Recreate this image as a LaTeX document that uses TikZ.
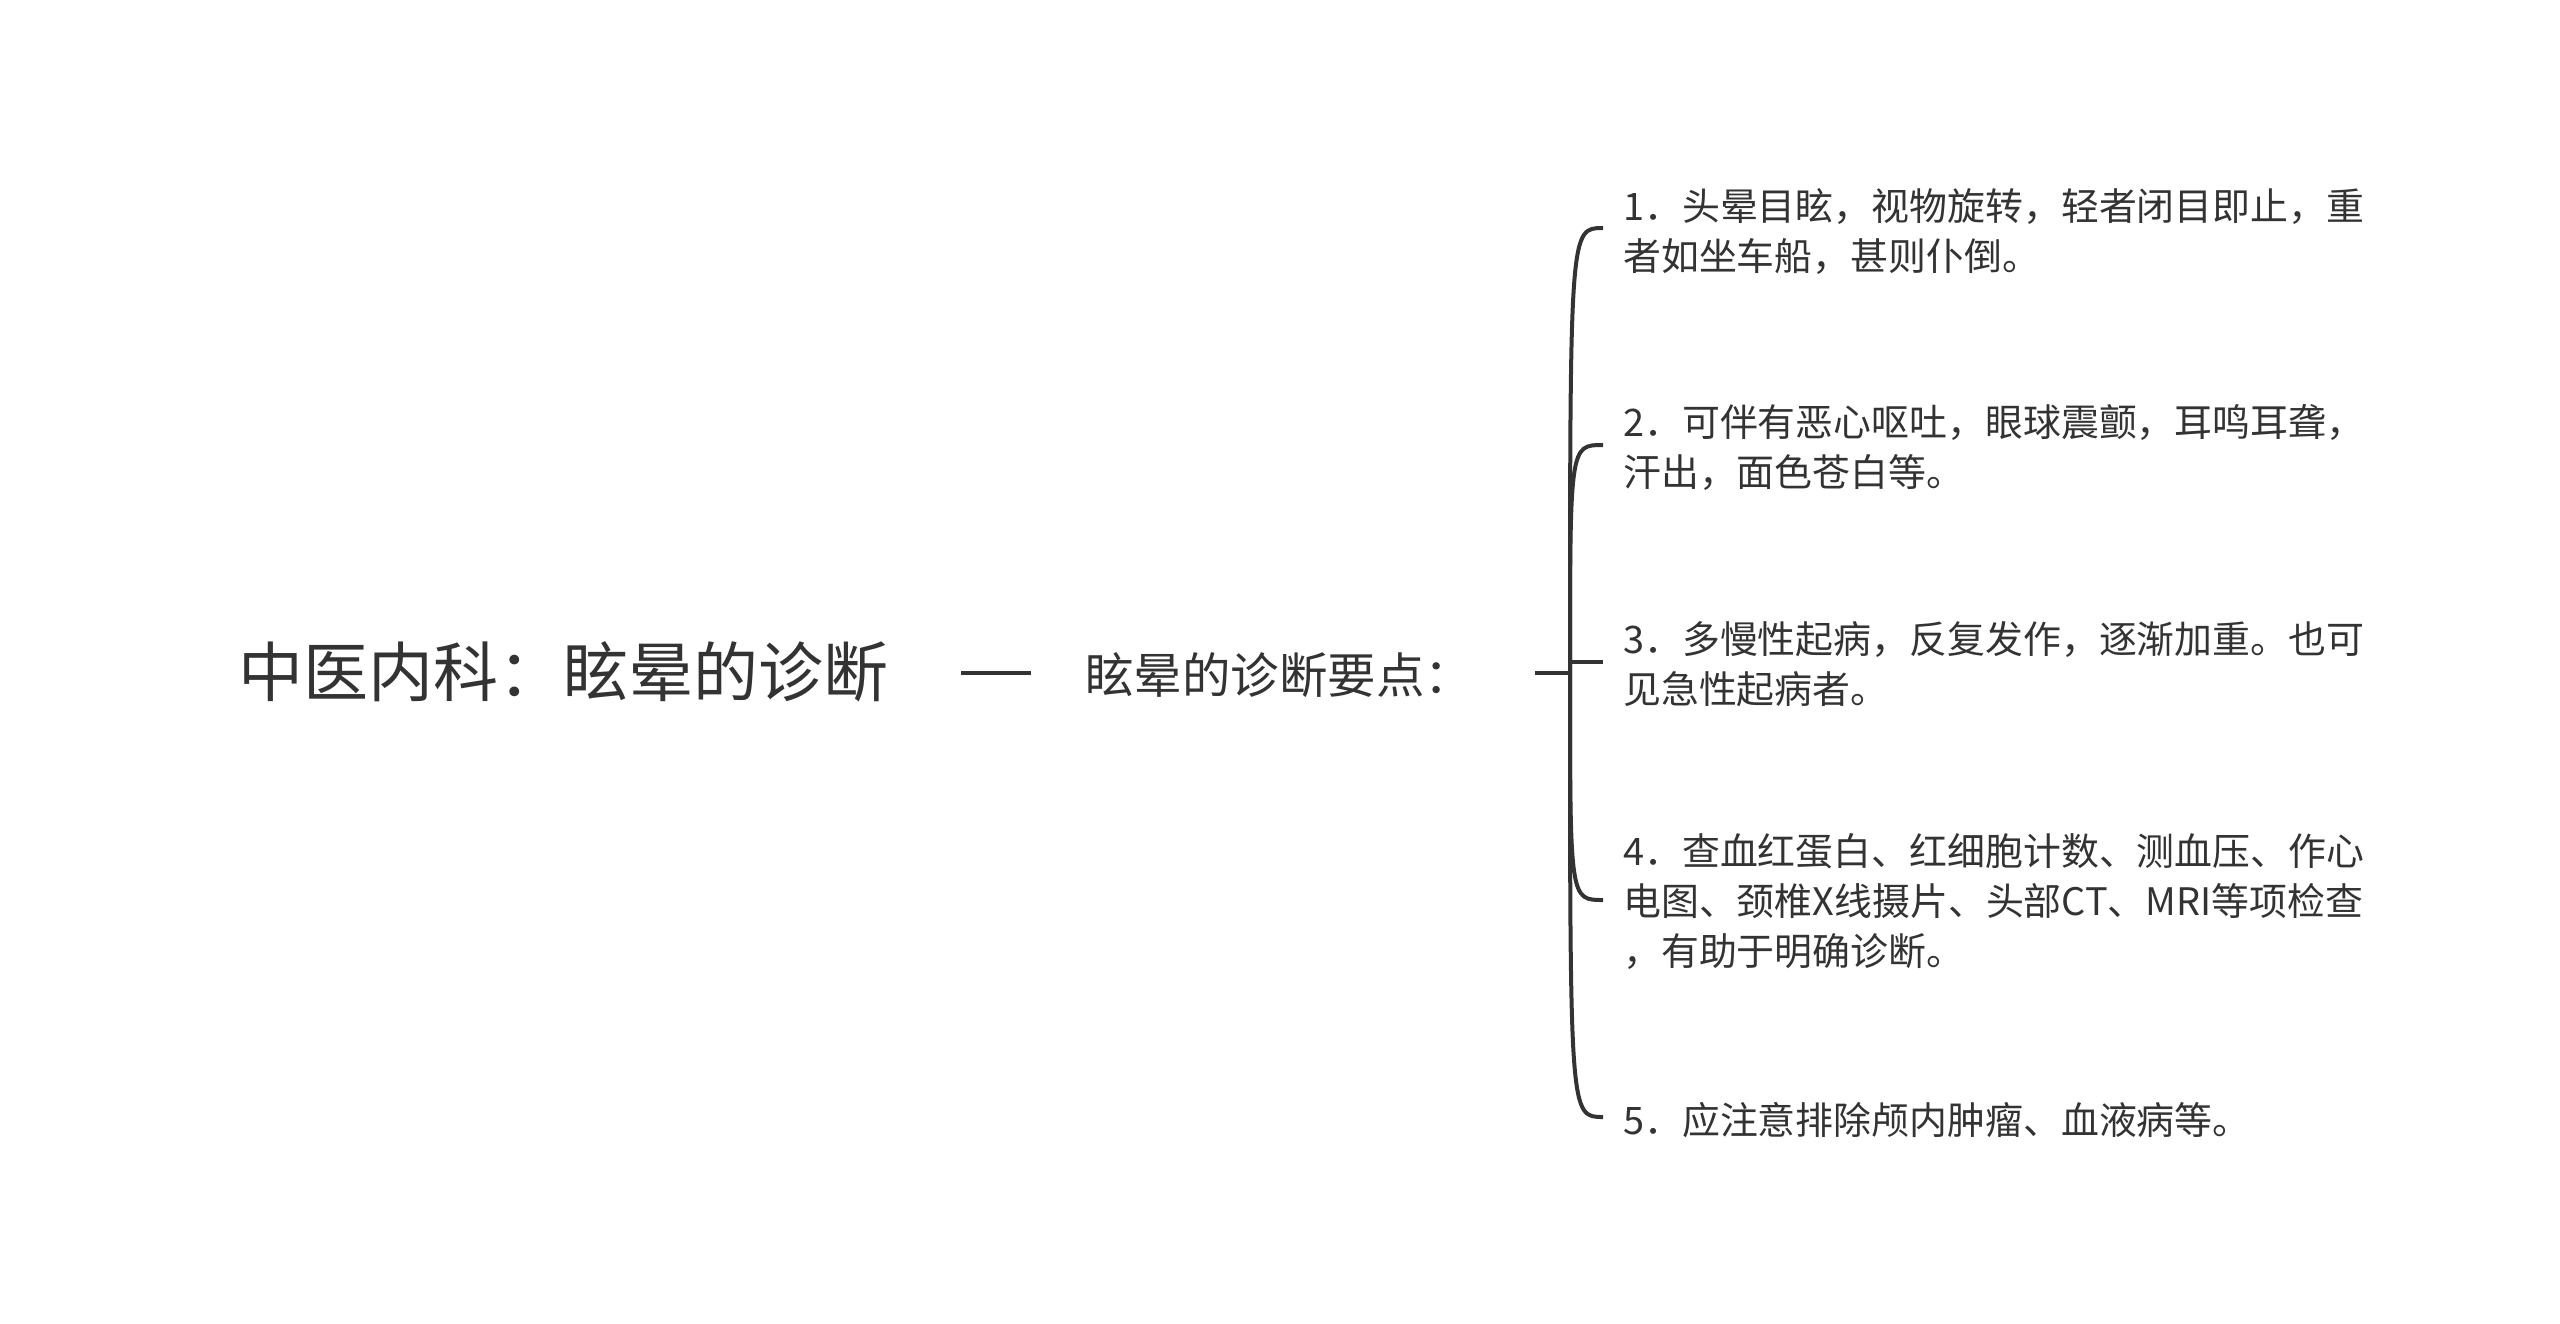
\documentclass[tikz,border=0pt]{standalone}
\usepackage{fontspec}
\setmainfont{Noto Sans CJK SC}
\definecolor{ink}{HTML}{333333}
\begin{document}
\begin{tikzpicture}[x=1pt,y=-1pt,
  conn/.style={draw=ink,line width=4pt},
  rootst/.style={text=ink,inner sep=0pt,anchor=west,font=\fontsize{65}{76}\selectfont},
  midst/.style={text=ink,inner sep=0pt,anchor=west,font=\fontsize{48.5}{58}\selectfont},
  leafst/.style={text=ink,inner sep=0pt,anchor=west,align=left,font=\fontsize{37.9}{50}\selectfont}]
\useasboundingbox (0,0) rectangle (2560,1323);
\node[rootst] (root) at (238,672) {中医内科：眩晕的诊断};
\node[midst] (mid) at (1085,675) {眩晕的诊断要点：};
\coordinate (a1) at (961,673);
\coordinate (a2) at (1031,673);
\draw[conn] (a1) -- (a2);
\coordinate (b1) at (1535,673);
\coordinate (sp) at (1570,673);
\draw[conn] (b1) -- (sp);
\node[leafst] (c1) at (1623,232) {1．头晕目眩，视物旋转，轻者闭目即止，重\\者如坐车船，甚则仆倒。};
\node[leafst] (c2) at (1623,447) {2．可伴有恶心呕吐，眼球震颤，耳鸣耳聋，\\汗出，面色苍白等。};
\node[leafst] (c3) at (1623,664) {3．多慢性起病，反复发作，逐渐加重。也可\\见急性起病者。};
\node[leafst] (c4) at (1623,902) {4．查血红蛋白、红细胞计数、测血压、作心\\电图、颈椎X线摄片、头部CT、MRI等项检查\\，有助于明确诊断。};
\node[leafst] (c5) at (1623,1120) {5．应注意排除颅内肿瘤、血液病等。};
\coordinate (e1) at (1603,228);
\coordinate (e2) at (1603,445);
\coordinate (e3) at (1603,662);
\coordinate (e4) at (1603,900);
\coordinate (e5) at (1603,1117);
\draw[conn] (sp) .. controls (1570,228) .. (e1);
\draw[conn] (sp) .. controls (1570,445) .. (e2);
\draw[conn] (sp |- e3) -- (e3);
\draw[conn] (sp) .. controls (1570,900) .. (e4);
\draw[conn] (sp) .. controls (1570,1117) .. (e5);
\end{tikzpicture}
\end{document}
